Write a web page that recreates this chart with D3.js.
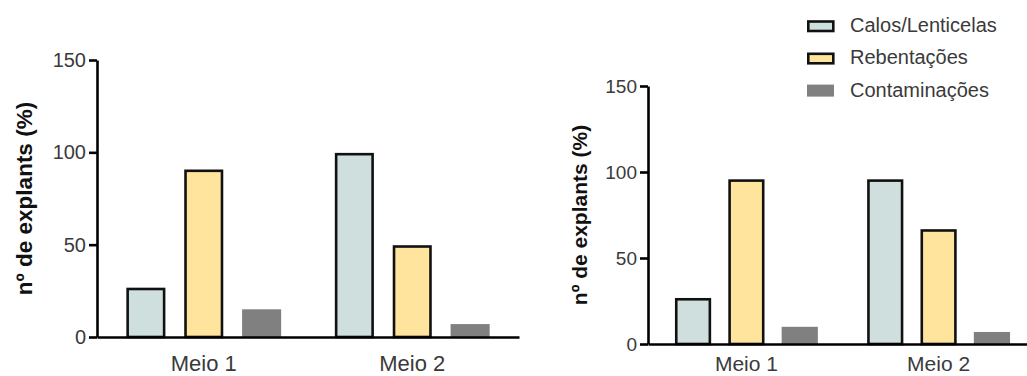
<!DOCTYPE html>
<html>
<head>
<meta charset="utf-8">
<script src="https://cdn.jsdelivr.net/npm/d3@7"></script>
<style>
    body { margin: 0; background: #fff; }
    svg { display: block; font-family: "Liberation Sans", Arial, sans-serif; }
    .axis path, .axis line { stroke: #000; stroke-width: 2.6; }
    .axis text { fill: #3a3a3a; }
</style>
</head>
<body>
<div id="chart"></div>
<script>

// Data
const categories = ["Meio 1", "Meio 2"];
const series = ["Calos/Lenticelas", "Rebentações", "Contaminações"];
const yTicks = [0, 50, 100, 150];

// Left panel values (Meio 1, Meio 2)
const leftCalos = [26, 99];
const leftRebentacoes = [90, 49];
const leftContaminacoes = [15, 7];

// Right panel values (Meio 1, Meio 2)
const rightCalos = [26, 95];
const rightRebentacoes = [95, 66];
const rightContaminacoes = [10, 7];

const colours = ["#cfdfde", "#fee49c", "#808080"];
const strokes = ["#111", "#111", "none"];

const width = 1027, height = 376;

const svg = d3.select("#chart")
    .append("svg")
    .attr("width", width)
    .attr("height", height);

// Build rows for a panel
function rows(calos, rebent, contam) {
    const cols = [calos, rebent, contam];
    return categories.map((c, i) => ({
        group: c,
        values: series.map((s, j) => ({ series: s, value: cols[j][i] }))
    }));
}

// Draw one panel
function drawPanel(data, o) {
    const g = svg.append("g");

    const x = d3.scaleBand()
        .domain(categories)
        .range([o.x0, o.x1])
        .paddingInner(0.27)
        .paddingOuter(0.147);

    const xs = d3.scaleBand()
        .domain(series)
        .range([0, x.bandwidth()])
        .paddingInner(0.37)
        .paddingOuter(0);

    const y = d3.scaleLinear()
        .domain([0, 150])
        .range([o.y0, o.y1]);

    // Bars (the unstroked series is widened to match the stroked outer size)
    const noStroke = (d) => d.series === series[2];

    g.selectAll(".grp")
        .data(data)
        .enter()
        .append("g")
        .attr("transform", (d) => `translate(${x(d.group)},0)`)
        .selectAll("rect")
        .data((d) => d.values)
        .enter()
        .append("rect")
        .attr("x", (d) => xs(d.series) + (noStroke(d) ? -1.3 : 0))
        .attr("y", (d) => y(d.value))
        .attr("width", (d) => xs.bandwidth() + (noStroke(d) ? 2.6 : 0))
        .attr("height", (d) => o.y0 - y(d.value))
        .attr("fill", (d) => colours[series.indexOf(d.series)])
        .attr("stroke", (d) => strokes[series.indexOf(d.series)])
        .attr("stroke-width", 2.6);

    // Y axis
    g.append("g")
        .attr("class", "axis")
        .attr("transform", `translate(${o.x0},0)`)
        .call(d3.axisLeft(y).tickValues(yTicks).tickSize(o.tick).tickSizeOuter(0).tickPadding(o.tickPad))
        .call((a) => a.selectAll("text").style("font-size", o.fs + "px"));

    // X axis
    g.append("g")
        .attr("class", "axis")
        .attr("transform", `translate(0,${o.y0})`)
        .call(d3.axisBottom(x).tickSize(0).tickSizeOuter(0).tickPadding(o.xPad))
        .call((a) => a.selectAll("text").style("font-size", o.xFs + "px"));

    // Y title
    g.append("text")
        .attr("transform", "rotate(-90)")
        .attr("x", -(o.y0 + o.y1) / 2)
        .attr("y", o.titleX)
        .attr("text-anchor", "middle")
        .style("font-size", o.titleFs + "px")
        .style("font-weight", "bold")
        .attr("fill", "#111")
        .text("nº de explants (%)");
}

drawPanel(rows(leftCalos, leftRebentacoes, leftContaminacoes),
    { x0: 97, x1: 519, y0: 337, y1: 60, fs: 20, xFs: 22, tick: 8, tickPad: 3, xPad: 18, titleX: 32, titleFs: 22.5 });

drawPanel(rows(rightCalos, rightRebentacoes, rightContaminacoes),
    { x0: 648, x1: 1037, y0: 344, y1: 86, fs: 19, xFs: 21, tick: 8, tickPad: 3, xPad: 12, titleX: 587, titleFs: 21 });

// Legend
const legend = svg.append("g")
    .attr("transform", "translate(808,0)");

const item = legend.selectAll("g")
    .data(series)
    .enter()
    .append("g")
    .attr("transform", (d, i) => `translate(0,${32 + i * 32.3})`);

item.append("rect")
    .attr("x", (d, i) => i === 2 ? -1 : 0.3)
    .attr("y", (d, i) => i === 2 ? -12 : -10.5)
    .attr("width", (d, i) => i === 2 ? 27 : 25)
    .attr("height", (d, i) => i === 2 ? 12 : 9.5)
    .attr("fill", (d, i) => colours[i])
    .attr("stroke", (d, i) => strokes[i])
    .attr("stroke-width", 2.6);

item.append("text")
    .attr("x", 42)
    .attr("y", 0)
    .style("font-size", "20px")
    .attr("fill", "#3a3a3a")
    .text((d) => d);

</script>
</body>
</html>
